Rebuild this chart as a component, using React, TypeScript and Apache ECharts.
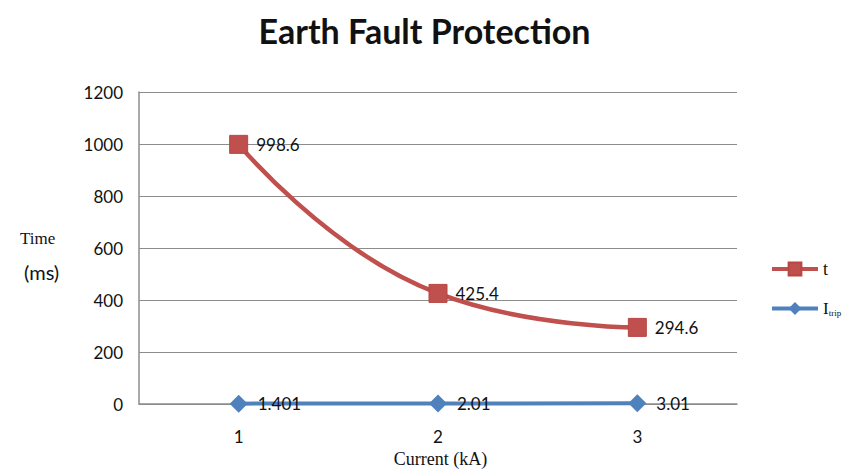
import React, { useEffect, useRef } from "react";
import * as echarts from "echarts";

const categories = ["1", "2", "3"];
const tValues = [998.6, 425.4, 294.6];
const iTripValues = [1.401, 2.01, 3.01];
const yTicks = [0, 200, 400, 600, 800, 1000, 1200];

export default function App() {
  const ref = useRef<HTMLDivElement>(null);
  useEffect(() => {
    if (!ref.current) return;
    const chart = echarts.init(ref.current, undefined, { renderer: "svg" });
    const font = "Lato, 'Open Sans', sans-serif";
    chart.setOption({
      animation: false,
      backgroundColor: "#ffffff",
      title: {
        text: "Earth Fault Protection",
        left: "center",
        top: 8,
        textStyle: { fontFamily: font, fontSize: 34, fontWeight: "bold", color: "#111" },
      },
      grid: { left: 139, right: 112, top: 92, bottom: 61 },
      legend: {
        orient: "vertical",
        left: 765,
        top: 255,
        itemGap: 22,
        itemWidth: 46,
        itemHeight: 16,
        lineStyle: { width: 4 },
        textStyle: {
          fontFamily: "'Liberation Serif', serif",
          fontSize: 18,
          color: "#111",
          rich: {
            big: { fontFamily: "'Liberation Serif', serif", fontSize: 17, color: "#111" },
            sub: { fontFamily: "'Liberation Serif', serif", fontSize: 9, color: "#111", verticalAlign: "bottom", padding: [8, 0, 0, 0] },
          },
        },
        formatter: (name: string) => (name === "I_trip" ? "{big|I}{sub|trip}" : name),
        data: ["t", "I_trip"],
      },
      xAxis: {
        type: "category",
        data: categories,
        boundaryGap: true,
        axisLine: { show: true, lineStyle: { color: "#8c8c8c", width: 1.5 } },
        axisTick: { show: false },
        axisLabel: { margin: 24, fontFamily: font, fontSize: 17, color: "#111" },
        name: "Current (kA)",
        nameLocation: "middle",
        nameGap: 46,
        nameTextStyle: { fontFamily: "'Liberation Serif', serif", fontSize: 18, color: "#111", padding: [0, 0, 0, 5] },
      },
      yAxis: {
        type: "value",
        min: 0,
        max: 1200,
        interval: 200,
        axisLine: { show: true, lineStyle: { color: "#8c8c8c", width: 1.5 } },
        axisTick: { show: false },
        splitLine: { lineStyle: { color: "#8c8c8c", width: 1.2 } },
        axisLabel: {
          margin: 16,
          fontFamily: font,
          fontSize: 17,
          color: "#111",
          formatter: (v: number) => (yTicks.includes(v) ? String(v) : ""),
        },
      },
      graphic: [
        {
          type: "text",
          left: 20,
          top: 230,
          style: { text: "Time", fontFamily: "'Liberation Serif', serif", fontSize: 17, fill: "#111" },
        },
        {
          type: "text",
          left: 24,
          top: 262,
          style: { text: "(ms)", fontFamily: font, fontSize: 20, fill: "#111" },
        },
      ],
      series: [
        {
          name: "t",
          type: "line",
          data: tValues,
          smooth: 0.5,
          symbol: "rect",
          symbolSize: 18,
          lineStyle: { color: "#C0504D", width: 4.5 },
          itemStyle: { color: "#C0504D", borderColor: "#B84744", borderWidth: 1 },
          label: {
            show: true,
            position: "right",
            distance: 8,
            fontFamily: font,
            fontSize: 17,
            color: "#111",
          },
          z: 3,
        },
        {
          name: "I_trip",
          type: "line",
          data: iTripValues,
          symbol: "diamond",
          symbolSize: 18,
          lineStyle: { color: "#4F81BD", width: 4 },
          itemStyle: { color: "#4F81BD" },
          label: {
            show: true,
            position: "right",
            distance: 10,
            fontFamily: font,
            fontSize: 17,
            color: "#111",
          },
          z: 2,
        },
      ],
    });
    return () => chart.dispose();
  }, []);
  return <div ref={ref} style={{ position: "fixed", left: 0, top: 0, width: 849, height: 473 }} />;
}
